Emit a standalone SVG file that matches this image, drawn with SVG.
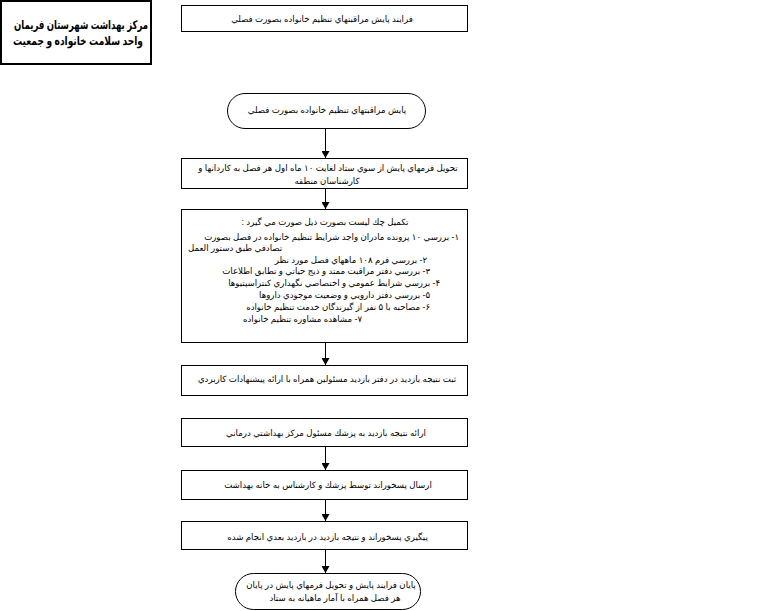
<svg xmlns="http://www.w3.org/2000/svg" width="778" height="611" viewBox="0 0 778 611">
<defs>
<style>
.box{fill:#fff;stroke:#000;stroke-width:1}
.t{font-family:"Liberation Sans","DejaVu Sans",sans-serif;font-size:8.6px;fill:#000;direction:rtl;unicode-bidi:embed;text-anchor:middle}
.r{text-anchor:start}
.l{text-anchor:end}
.title{font-family:"Liberation Sans","DejaVu Sans",sans-serif;font-size:12px;font-weight:bold;fill:#000;text-anchor:middle;direction:rtl;unicode-bidi:embed}
.conn line{stroke:#000;stroke-width:1}
</style>
<marker id="ah" markerWidth="8" markerHeight="8" refX="7" refY="4" orient="auto" markerUnits="userSpaceOnUse">
<path d="M0,0 L7,4 L0,8 Z" fill="#000"/>
</marker>
</defs>
<rect width="778" height="611" fill="#fff"/>

<g id="title">
<rect x="1" y="1" width="150" height="63" fill="#fff" stroke="#000" stroke-width="2"/>
<text class="title" x="81" y="29" textLength="134" lengthAdjust="spacingAndGlyphs">مركز بهداشت شهرستان فريمان</text>
<text class="title" x="78" y="45" textLength="130" lengthAdjust="spacingAndGlyphs">واحد سلامت خانواده و جمعيت</text>
</g>

<g id="n1">
<rect class="box" x="181.5" y="5.5" width="286" height="26"/>
<text class="t" x="322" y="22">فرايند پايش مراقبتهاي تنظيم خانواده بصورت فصلي</text>
</g>

<g id="n2">
<rect class="box" x="227.5" y="93.5" width="198" height="35" rx="17.5" ry="17.5"/>
<text class="t" x="327" y="113">پايش مراقبتهاي تنظيم خانواده بصورت فصلي</text>
</g>

<g id="n3">
<rect class="box" x="181.5" y="158.5" width="286" height="30"/>
<text class="t" x="328" y="171">تحويل فرمهاي پايش از سوي ستاد لغايت ۱۰ ماه اول هر فصل به كاردانها و</text>
<text class="t" x="327" y="183.5">كارشناسان منطقه</text>
</g>

<g id="n4">
<rect class="box" x="181.5" y="209.5" width="286" height="133"/>
<text class="t" x="325" y="225">تكميل چك ليست بصورت ذيل صورت مي گيرد :</text>
<text class="t r" x="459" y="240">۱- بررسي ۱۰ پرونده مادران واجد شرايط تنظيم خانواده در فصل بصورت</text>
<text class="t l" x="188" y="251">تصادفي طبق دستور العمل</text>
<text class="t r" x="427" y="262.5">۲- بررسي فرم ۱۰۸ ماههاي فصل مورد نظر</text>
<text class="t r" x="430" y="274">۳- بررسي دفتر مراقبت ممتد و ذيج حياتي و تطابق اطلاعات</text>
<text class="t r" x="440" y="286">۴- بررسي شرايط عمومي و اختصاصي نگهداري كنتراسپتيوها</text>
<text class="t r" x="430" y="298">۵- بررسي دفتر دارويي و وضعيت موجودي داروها</text>
<text class="t r" x="430" y="310">۶- مصاحبه با ۵ نفر از گيرندگان خدمت تنظيم خانواده</text>
<text class="t r" x="362" y="322">۷- مشاهده مشاوره تنظيم خانواده</text>
</g>

<g id="n5">
<rect class="box" x="181.5" y="365.5" width="286" height="30"/>
<text class="t" x="327" y="382">ثبت نتيجه بازديد در دفتر بازديد مسئولين همراه با ارائه پيشنهادات كاربردي</text>
</g>

<g id="n6">
<rect class="box" x="181.5" y="418.5" width="286" height="28"/>
<text class="t" x="326" y="436">ارائه نتيجه بازديد به پزشك مسئول مركز بهداشتي درماني</text>
</g>

<g id="n7">
<rect class="box" x="181.5" y="470.5" width="286" height="29"/>
<text class="t" x="328" y="487.5">ارسال پسخوراند توسط پزشك و كارشناس به خانه بهداشت</text>
</g>

<g id="n8">
<rect class="box" x="181.5" y="521.5" width="286" height="28"/>
<text class="t" x="327.5" y="539.5">پيگيري پسخوراند و نتيجه بازديد در بازديد بعدي انجام شده</text>
</g>

<g id="n9">
<rect class="box" x="235.5" y="573.5" width="185" height="36" rx="18" ry="18"/>
<text class="t" x="331" y="587.5">پايان فرايند پايش و تحويل فرمهاي پايش در پايان</text>
<text class="t" x="335" y="600.5">هر فصل همراه با آمار ماهيانه به ستاد</text>
</g>

<g id="connectors" class="conn">
<line x1="325.5" y1="129" x2="325.5" y2="158" marker-end="url(#ah)"/>
<line x1="325.5" y1="189" x2="325.5" y2="209" marker-end="url(#ah)"/>
<line x1="325.5" y1="343" x2="325.5" y2="365" marker-end="url(#ah)"/>
<line x1="325.5" y1="447" x2="325.5" y2="470" marker-end="url(#ah)"/>
<line x1="325.5" y1="500" x2="325.5" y2="521" marker-end="url(#ah)"/>
<line x1="325.5" y1="550" x2="325.5" y2="573" marker-end="url(#ah)"/>
</g>
</svg>
